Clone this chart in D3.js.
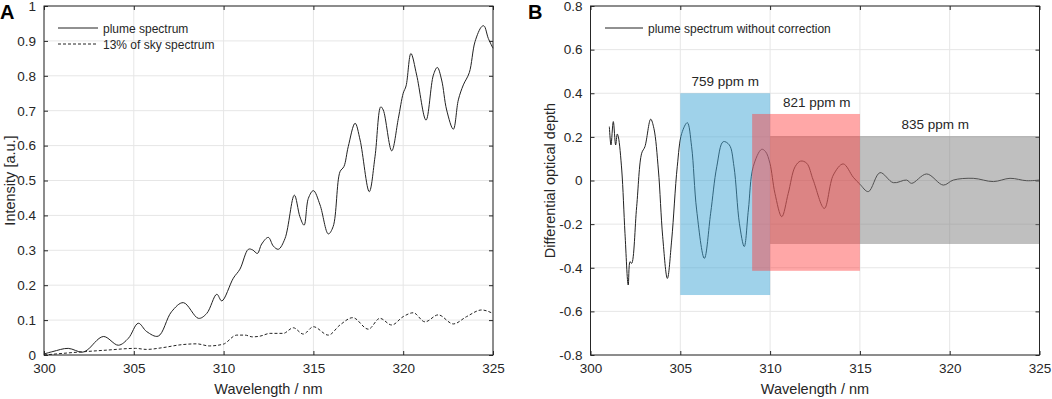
<!DOCTYPE html>
<html>
<head>
<meta charset="utf-8">
<script src="https://cdn.jsdelivr.net/npm/d3@7"></script>
<style>
  body { margin: 0; background: #fff; }
  text { font-family: "Liberation Sans", Arial, sans-serif; fill: #262626; }
</style>
</head>
<body>
<div id="canvas"></div>
<script>
// panel A - plume spectrum
const plumeWl = [300.0, 300.5, 301.35, 302.1, 302.4, 303.3, 304.14, 304.7, 305.25, 305.72, 306.36,
  307.1, 307.76, 308.6, 309.06, 309.62, 309.9, 310.54, 310.91, 311.38, 311.62, 311.88, 312.12,
  312.49, 312.77, 313.05, 313.42, 313.94, 314.25, 314.48, 314.72, 315.0, 315.37, 315.83, 316.1,
  316.48, 316.7, 316.94, 317.32, 317.6, 318.11, 318.43, 318.75, 318.89, 319.36, 319.73, 320.0,
  320.16, 320.43, 320.75, 321.27, 321.68, 321.9, 322.14, 322.42, 322.79, 323.07, 323.35, 323.68,
  324.0, 324.37, 324.5, 324.74, 325.0];
const plumeVal = [0.003, 0.010, 0.019, 0.008, 0.014, 0.053, 0.028, 0.048, 0.091, 0.067, 0.054,
  0.124, 0.150, 0.105, 0.119, 0.174, 0.155, 0.220, 0.246, 0.303, 0.301, 0.291, 0.318,
  0.337, 0.312, 0.303, 0.334, 0.458, 0.396, 0.372, 0.449, 0.471, 0.430, 0.347, 0.368,
  0.525, 0.540, 0.597, 0.664, 0.616, 0.468, 0.568, 0.711, 0.702, 0.585, 0.678, 0.750,
  0.771, 0.864, 0.802, 0.673, 0.802, 0.824, 0.788, 0.702, 0.647, 0.731, 0.774, 0.809,
  0.898, 0.941, 0.943, 0.907, 0.879];

// panel A - 13% of sky spectrum
const skyWl = [300.0, 301.6, 303.5, 305.1, 305.7, 306.6, 307.57, 308.5, 309.2, 309.98, 310.73,
  311.19, 311.6, 312.03, 312.59, 313.32, 313.88, 314.44, 315.0, 315.83, 316.48, 317.19, 318.06,
  318.7, 319.36, 320.0, 320.56, 321.21, 321.95, 322.79, 323.53, 324.37, 325.0];
const skyVal = [0.0, 0.007, 0.014, 0.019, 0.016, 0.021, 0.029, 0.032, 0.026, 0.031, 0.057,
  0.057, 0.052, 0.054, 0.062, 0.062, 0.078, 0.060, 0.081, 0.057, 0.086, 0.107, 0.074,
  0.105, 0.086, 0.110, 0.121, 0.095, 0.115, 0.089, 0.110, 0.129, 0.119];

// panel B - differential optical depth
const dodWl = [301.05, 301.14, 301.27, 301.4, 301.49, 301.55, 301.74, 301.92, 302.1, 302.2, 302.29,
  302.57, 302.85, 303.03, 303.35, 303.53, 303.78, 304.02, 304.28, 304.52, 304.83, 305.08, 305.39,
  305.63, 305.91, 306.34, 306.69, 307.03, 307.39, 307.73, 307.99, 308.29, 308.56, 308.79, 309.06,
  309.53, 309.75, 309.99, 310.27, 310.65, 311.01, 311.39, 311.7, 312.04, 312.4, 313.02, 313.52,
  314.07, 314.63, 315.0, 315.47, 316.12, 316.86, 317.6, 317.88, 318.72, 319.64, 320.2, 321.31,
  322.43, 323.36, 324.29, 325.0];
const dodVal = [0.247, 0.163, 0.27, 0.163, 0.213, 0.20, 0.048, -0.242, -0.479, -0.372, -0.38,
  -0.12, 0.125, 0.155, 0.281, 0.239, 0.048, -0.258, -0.449, -0.273, 0.063, 0.216, 0.265,
  0.155, -0.135, -0.357, -0.15, 0.063, 0.178, 0.163, 0.063, -0.196, -0.303, -0.135, 0.063,
  0.143, 0.132, 0.079, -0.059, -0.166, -0.059, 0.063, 0.089, 0.079, 0.002, -0.128, 0.025,
  0.076, 0.015, -0.017, -0.051, 0.036, -0.01, 0.002, -0.013, 0.03, -0.021, 0.002, 0.01,
  -0.005, 0.01, -0.001, 0.002];

// fit windows
const winStart = [305, 310, 309];
const winEnd = [310, 325, 315];
const winTop = [0.4, 0.204, 0.305];
const winBottom = [-0.525, -0.291, -0.414];
const winLabel = ["759 ppm m", "835 ppm m", "821 ppm m"];
const winLabelX = [307.5, 319.2, 312.6];
const winColor = ["rgba(63,165,213,0.5)", "rgba(128,128,128,0.5)", "rgba(255,60,60,0.45)"];

const xTicks = [300, 305, 310, 315, 320, 325];
const yTicksA = d3.range(0, 1.01, 0.1);
const yTicksB = d3.range(-0.8, 0.81, 0.2);

const svg = d3.select("#canvas").append("svg")
    .attr("width", 1052)
    .attr("height", 399);

function makePanel(left, right, yDomain, yTicks, yLabel, yLabelX, letter, letterX) {
    const top = 6, bottom = 355;
    const x = d3.scaleLinear().domain([300, 325]).range([left, right]);
    const y = d3.scaleLinear().domain(yDomain).range([bottom, top]);
    const g = svg.append("g");

    // grid
    g.selectAll(".gx").data(xTicks).enter().append("line")
        .attr("x1", d => x(d)).attr("x2", d => x(d))
        .attr("y1", top).attr("y2", bottom)
        .attr("stroke", "#e6e6e6").attr("stroke-width", 1);
    g.selectAll(".gy").data(yTicks).enter().append("line")
        .attr("x1", left).attr("x2", right)
        .attr("y1", d => y(d)).attr("y2", d => y(d))
        .attr("stroke", "#e6e6e6").attr("stroke-width", 1);

    const fmt = d => String(+d.toFixed(1));

    // axes, ticks inside
    g.append("g").attr("transform", `translate(0,${bottom})`)
        .call(d3.axisBottom(x).tickValues(xTicks).tickSize(-4).tickPadding(8).tickFormat(d => d))
        .call(a => a.select(".domain").remove());
    g.append("g").attr("transform", `translate(0,${top})`)
        .call(d3.axisTop(x).tickValues(xTicks).tickSize(-4).tickFormat(""))
        .call(a => a.select(".domain").remove());
    g.append("g").attr("transform", `translate(${left},0)`)
        .call(d3.axisLeft(y).tickValues(yTicks).tickSize(-4).tickPadding(8).tickFormat(fmt))
        .call(a => a.select(".domain").remove());
    g.append("g").attr("transform", `translate(${right},0)`)
        .call(d3.axisRight(y).tickValues(yTicks).tickSize(-4).tickFormat(""))
        .call(a => a.select(".domain").remove());

    g.selectAll(".tick line").attr("stroke", "#262626");
    g.selectAll(".tick text")
        .attr("font-size", "13.5px")
        .attr("font-family", "'Liberation Sans', Arial, sans-serif")
        .attr("fill", "#262626");

    g.append("text")
        .text("Wavelength / nm")
        .attr("x", (left + right) / 2)
        .attr("y", 394)
        .attr("text-anchor", "middle")
        .style("font-size", "14.5px");

    g.append("text")
        .text(yLabel)
        .attr("transform", `translate(${yLabelX},${(top + bottom) / 2}) rotate(-90)`)
        .attr("text-anchor", "middle")
        .style("font-size", "14.5px");

    g.append("text")
        .text(letter)
        .attr("x", letterX)
        .attr("y", 19)
        .style("font-size", "20px")
        .style("font-weight", "bold")
        .style("fill", "#000");

    return { g, x, y, top, bottom, left, right };
}

function drawBox(p) {
    p.g.append("rect")
        .attr("x", p.left).attr("y", p.top)
        .attr("width", p.right - p.left).attr("height", p.bottom - p.top)
        .attr("fill", "none")
        .attr("stroke", "#262626")
        .attr("stroke-width", 1);
}

// ---------- Panel A ----------
const pA = makePanel(44, 493, [0, 1], yTicksA, "Intensity [a.u.]", 15, "A", 0);

const lineA = d3.line()
    .x(d => pA.x(d[0]))
    .y(d => pA.y(d[1]))
    .curve(d3.curveCatmullRom.alpha(0.5));

pA.g.append("path")
    .datum(plumeWl.map((w, i) => [w, plumeVal[i]]))
    .attr("d", lineA)
    .attr("fill", "none")
    .attr("stroke", "#222")
    .attr("stroke-width", 1);

pA.g.append("path")
    .datum(skyWl.map((w, i) => [w, skyVal[i]]))
    .attr("d", d3.line().x(d => pA.x(d[0])).y(d => pA.y(d[1])).curve(d3.curveMonotoneX))
    .attr("fill", "none")
    .attr("stroke", "#222")
    .attr("stroke-width", 1)
    .attr("stroke-dasharray", "3,2");

drawBox(pA);

// legend A
const legA = pA.g.append("g");
legA.append("line").attr("x1", 58).attr("x2", 98).attr("y1", 28).attr("y2", 28)
    .attr("stroke", "#222").attr("stroke-width", 1);
legA.append("text").text("plume spectrum").attr("x", 103).attr("y", 32.5).style("font-size", "12px");
legA.append("line").attr("x1", 58).attr("x2", 98).attr("y1", 44).attr("y2", 44)
    .attr("stroke", "#222").attr("stroke-width", 1).attr("stroke-dasharray", "3,2");
legA.append("text").text("13% of sky spectrum").attr("x", 103).attr("y", 49).style("font-size", "12px");

// ---------- Panel B ----------
const pB = makePanel(590.5, 1039.5, [-0.8, 0.8], yTicksB, "Differential optical depth", 555, "B", 528);

const lineB = d3.line()
    .x(d => pB.x(d[0]))
    .y(d => pB.y(d[1]))
    .curve(d3.curveCatmullRom.alpha(0.5));

pB.g.append("path")
    .datum(dodWl.map((w, i) => [w, dodVal[i]]))
    .attr("d", lineB)
    .attr("fill", "none")
    .attr("stroke", "#222")
    .attr("stroke-width", 1);

pB.g.selectAll(".win").data(winStart).enter().append("rect")
    .attr("x", (d, i) => pB.x(d))
    .attr("width", (d, i) => pB.x(winEnd[i]) - pB.x(d))
    .attr("y", (d, i) => pB.y(winTop[i]))
    .attr("height", (d, i) => pB.y(winBottom[i]) - pB.y(winTop[i]))
    .attr("fill", (d, i) => winColor[i]);

pB.g.selectAll(".winlabel").data(winLabel).enter().append("text")
    .text(d => d)
    .attr("x", (d, i) => pB.x(winLabelX[i]))
    .attr("y", (d, i) => pB.y(winTop[i]) - 7)
    .attr("text-anchor", "middle")
    .style("font-size", "13.5px");

drawBox(pB);

// legend B
const legB = pB.g.append("g");
legB.append("line").attr("x1", 605).attr("x2", 643).attr("y1", 28).attr("y2", 28)
    .attr("stroke", "#222").attr("stroke-width", 1);
legB.append("text").text("plume spectrum without correction").attr("x", 648).attr("y", 32.5)
    .style("font-size", "12px");
</script>
</body>
</html>
